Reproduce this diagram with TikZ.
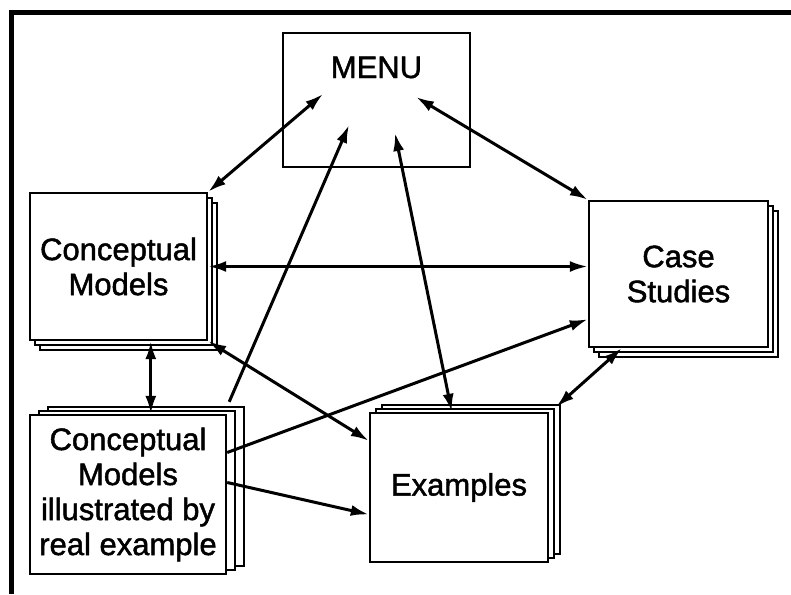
\documentclass[tikz,border=0pt]{standalone}
\usepackage{fontspec}
\setmainfont{Liberation Sans}
\newfontfamily\diagfont[FakeBold=1.5]{Liberation Sans}
\usetikzlibrary{arrows.meta,shadows,calc}

\tikzset{
  box/.style={draw, line width=2.4pt, fill=white, inner sep=2pt, align=center,
    font=\diagfont\fontsize{31}{35}\selectfont},
  pilelow/.style={copy shadow={shadow xshift=10pt, shadow yshift=-10pt},
    copy shadow={shadow xshift=5pt, shadow yshift=-5pt}},
  pilehigh/.style={copy shadow={shadow xshift=#1*2, shadow yshift=8pt},
    copy shadow={shadow xshift=#1, shadow yshift=4pt}},
  link/.style={line width=3pt, {Latex[length=18pt,width=11pt]}-{Latex[length=18pt,width=11pt]}},
  linkto/.style={line width=3pt, -{Latex[length=18pt,width=11pt]}}
}

\begin{document}
\begin{tikzpicture}[x=1pt, y=-1pt]
 \useasboundingbox (0,0) rectangle (791,594);
 % frame
 \draw[line width=5pt] (11,594) -- (11,12.5) -- (791,12.5);

 % boxes
 \node[box, minimum width=187pt, minimum height=134pt,
   text height=21pt, text depth=65pt, inner ysep=24pt] (menu) at (376.5,100) {MENU};
 \node[box, pilelow, minimum width=177pt, minimum height=147pt] (cm) at (118.5,266.5)
   {Conceptual\\Models};
 \node[box, pilelow, minimum width=179pt, minimum height=146pt] (cs) at (678.5,274)
   {Case\\Studies};
 \node[box, pilehigh=6pt, minimum width=178pt, minimum height=149pt] (ex) at (459,487.5)
   {Examples};
 \node[box, pilehigh=9pt, minimum width=196pt, minimum height=159pt] (cmi) at (128,494.5)
   {Conceptual\\Models\\illustrated by\\real example};

 % ends inside the menu box
 \coordinate (mcm) at (323,94);
 \coordinate (mcmi) at (349,125);
 \coordinate (mex) at (395,133);
 \coordinate (mcs) at (416,97);

 % connectors
 \draw[link] (mcm) -- (cm.north east);
 \draw[linkto] ($(cmi.north east)+(2,-12)$) -- (mcmi);
 \draw[link] (mex) -- ($(ex.north west)+(83,0)$);
 \draw[link] (mcs) -- (cs.north west);
 \draw[link] (cm.east) -- (cm.east -| cs.west);
 \draw[link] ($(cm.south west)+(122,0)$) -- ($(cmi.north west)+(122,0)$);
 \draw[link] (cm.south east) -- ($(ex.north west)+(0,29)$);
 \draw[linkto] ($(cmi.east)+(0,-42)$) -- ($(cs.south west)+(0,-29)$);
 \draw[linkto] ($(cmi.east)+(0,-12)$) -- ($(ex.west)+(0,27)$);
 \draw[link] ($(cs.south west)+(34,0)$) -- ($(ex.north east)+(7,-5)$);
\end{tikzpicture}
\end{document}
